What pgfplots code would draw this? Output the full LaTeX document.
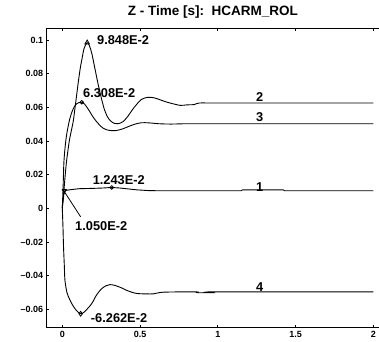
\documentclass[border=0pt]{standalone}
\usepackage{fontspec}
\setmainfont{Liberation Sans}
\usepackage{pgfplots}
\pgfplotsset{compat=1.18}
\begin{document}
\begin{tikzpicture}[x=1pt,y=1pt]
\useasboundingbox (0,0) rectangle (379,341);
\begin{axis}[
  at={(46.7pt,13.3pt)}, anchor=south west,
  scale only axis, width=332.3pt, height=299.4pt,
  xmin=-0.1003, xmax=2.037, ymin=-0.0709, ymax=0.1070,
  axis x line=box, axis y line=left,
  axis line style={-, line width=1.3pt},
  xtick={0,0.5,1,1.5,2}, xticklabels={0,0.5,1,1.5,2},
  ytick={-0.06,-0.04,-0.02,0,0.02,0.04,0.06,0.08,0.1},
  yticklabels={--0.06,--0.04,--0.02,0,0.02,0.04,0.06,0.08,0.1},
  xtick pos=both, ytick pos=left,
  tick align=inside, major tick length=2.5pt,
  every tick/.style={black, line width=1pt},
  ticklabel style={font=\fontsize{9}{10}\selectfont\bfseries},
  /pgf/number format/assume math mode=true,
  title={Z - Time [s]:\ \ HCARM\_ROL},
  title style={font=\fontsize{13.5}{15}\selectfont\bfseries, at={(0.5,1)}, anchor=center, yshift=10pt},
  clip=false,
]
% curve 2
\addplot[black, line width=0.9pt, smooth] coordinates {
(0,0) (0.008,0.008) (0.018,0.019) (0.028,0.0285) (0.045,0.040) (0.06,0.047) (0.071,0.052)
(0.085,0.062) (0.1,0.073) (0.115,0.083) (0.125,0.088) (0.14,0.095) (0.16,0.09848)
(0.175,0.0965) (0.19,0.092) (0.21,0.083) (0.23,0.074) (0.25,0.066) (0.27,0.059)
(0.29,0.0545) (0.31,0.0520) (0.335,0.0505) (0.36,0.0503) (0.39,0.0515) (0.42,0.0545)
(0.45,0.0585) (0.48,0.0620) (0.51,0.0648) (0.55,0.0660) (0.59,0.0657) (0.63,0.0645)
(0.67,0.0632) (0.71,0.0622) (0.76,0.0612) (0.80,0.0615) (0.85,0.0617) (0.88,0.0626)
(1.0,0.0626) (1.5,0.0626) (2.0,0.0626)};
% curve 3
\addplot[black, line width=0.9pt, smooth] coordinates {
(0,0) (0.005,0.012) (0.011,0.0285) (0.025,0.042) (0.045,0.052) (0.065,0.058) (0.085,0.0615)
(0.105,0.0628) (0.125,0.06308) (0.145,0.0618) (0.17,0.0585) (0.2,0.0540) (0.23,0.0505)
(0.26,0.0478) (0.29,0.0466) (0.32,0.0462) (0.35,0.0463) (0.39,0.0473) (0.43,0.0488)
(0.47,0.0501) (0.51,0.0509) (0.56,0.0508) (0.62,0.0503) (0.7,0.0501) (0.8,0.0503)
(1.0,0.0503) (2.0,0.0503)};
% curve 1
\addplot[black, line width=0.9pt] coordinates {
(0,0) (0.004,0.004) (0.010,0.0085) (0.017,0.0105) (0.03,0.0108) (0.06,0.0112) (0.11,0.0117)
(0.2,0.0119) (0.26,0.0121) (0.318,0.01243) (0.37,0.0121) (0.42,0.0116) (0.48,0.0110)
(0.55,0.0106) (0.6,0.0105) (1.15,0.0105) (1.16,0.0110) (1.42,0.0110) (1.43,0.0105) (2.0,0.0105)};
% curve 4
\addplot[black, line width=0.9pt, smooth] coordinates {
(0,0) (0.004,-0.010) (0.008,-0.023) (0.013,-0.034) (0.017,-0.0427) (0.03,-0.0500)
(0.05,-0.0546) (0.07,-0.0580) (0.092,-0.0608) (0.118,-0.06262) (0.14,-0.0617)
(0.16,-0.0598) (0.19,-0.0565) (0.22,-0.0515) (0.25,-0.0480) (0.28,-0.0460)
(0.307,-0.0453) (0.34,-0.0458) (0.38,-0.0472) (0.414,-0.0487) (0.46,-0.0502)
(0.5,-0.0507) (0.585,-0.0508) (0.65,-0.0498) (0.86,-0.0496) (0.87,-0.0501)
(0.97,-0.0501) (0.98,-0.0496) (2.0,-0.0496)};
% markers
\addplot[only marks, mark=triangle, mark size=2.6pt, mark options={black, fill=none, line width=0.8pt}] coordinates {(0.16,0.09848)};
\addplot[only marks, mark=o, mark size=1.8pt, mark options={black, line width=0.8pt}] coordinates {(0.125,0.06308) (0.318,0.01243)};
\addplot[only marks, mark=triangle, mark size=2.4pt, mark options={black, rotate=180, line width=0.8pt}] coordinates {(0.013,0.0105)};
\addplot[only marks, mark=diamond, mark size=2.4pt, mark options={black, line width=0.8pt}] coordinates {(0.118,-0.06262)};
% leader line
\addplot[black, line width=0.8pt] coordinates {(0.0064,0.0109) (0.118,-0.005)};
% annotations
\begin{scope}[every node/.style={font=\fontsize{12.8}{14}\selectfont\bfseries, inner sep=0pt}]
\node[anchor=west] at (axis cs:0.223,0.0997) {9.848E-2};
\node[anchor=west] at (axis cs:0.133,0.0682) {6.308E-2};
\node[anchor=west] at (axis cs:0.195,0.0170) {1.243E-2};
\node[anchor=west] at (axis cs:0.082,-0.0107) {1.050E-2};
\node[anchor=west] at (axis cs:0.183,-0.0649) {-6.262E-2};
\node at (axis cs:1.27,0.0660) {2};
\node at (axis cs:1.27,0.0545) {3};
\node at (axis cs:1.27,0.0127) {1};
\node at (axis cs:1.27,-0.0468) {4};
\end{scope}
\end{axis}
\end{tikzpicture}
\end{document}
